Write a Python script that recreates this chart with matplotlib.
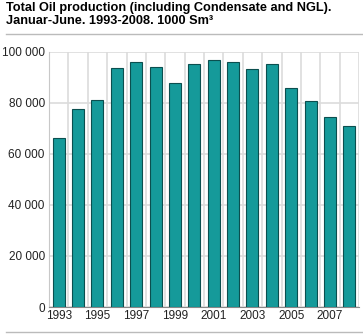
import numpy as np
import matplotlib.pyplot as plt
from matplotlib.lines import Line2D

years = list(range(1993, 2009))
production = [66200, 77600, 81100, 93700, 95900, 94100, 87800, 95200,
              96800, 96000, 93400, 95200, 85800, 80700, 74400, 70900]
y_ticks = [0, 20000, 40000, 60000, 80000, 100000]
y_labels = ["0", "20 000", "40 000", "60 000", "80 000", "100 000"]

plt.rcParams["font.family"] = ["Liberation Sans", "DejaVu Sans"]

fig = plt.figure(figsize=(3.63, 3.34), dpi=100)
ax = fig.add_axes([49 / 363, 1 - 307 / 334, 310 / 363, 255 / 334])

x = np.arange(len(years))
ax.bar(x, production, width=0.62, color="#159a9a", edgecolor="#0b4f4f",
       linewidth=0.8, zorder=3)

ax.set_xlim(-0.5, len(years) - 0.5)
ax.set_ylim(0, 100000)
ax.set_yticks(y_ticks)
ax.set_yticklabels(y_labels)
ax.set_xticks(x[::2])
ax.set_xticklabels([str(y) for y in years[::2]])
ax.set_xticks(np.arange(-0.5, len(years)), minor=True)
ax.tick_params(which="both", length=0, labelsize=8.5, colors="#222222")
ax.tick_params(axis="x", pad=2)
ax.tick_params(axis="y", pad=3)

ax.grid(axis="y", color="#dcdcdc", linewidth=1.2, zorder=0)
ax.grid(axis="x", which="minor", color="#dcdcdc", linewidth=1.2, zorder=0)
for s in ["top", "right"]:
    ax.spines[s].set_visible(False)
ax.spines["left"].set_color("#c8c8c8")
ax.spines["bottom"].set_color("#888888")

fig.text(6 / 363, 1 - 2 / 334,
         "Total Oil production (including Condensate and NGL).\n"
         "Januar-June. 1993-2008. 1000 Sm³",
         ha="left", va="top", fontsize=9.15, fontweight="bold",
         linespacing=1.1)

fig.add_artist(Line2D([6 / 363, 1], [1 - 34 / 334] * 2, color="#bbbbbb",
                      linewidth=1))
fig.add_artist(Line2D([6 / 363, 1], [1 - 332 / 334] * 2, color="#bbbbbb",
                      linewidth=1))

plt.savefig("out.png", dpi=100)
